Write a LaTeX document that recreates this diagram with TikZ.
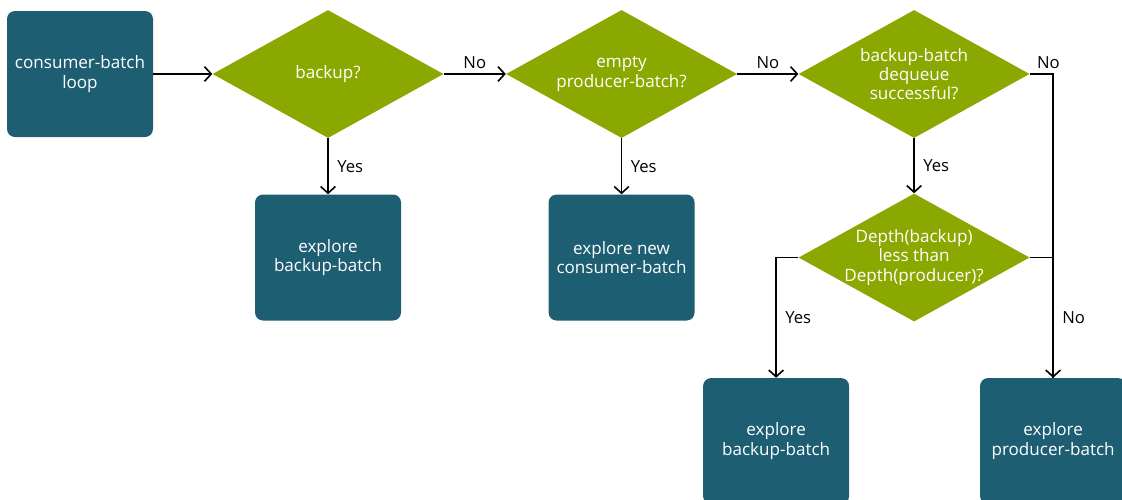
\documentclass[tikz,border=0pt]{standalone}
\usepackage{fontspec}
\setmainfont{Open Sans}
\usetikzlibrary{arrows.meta, shapes.geometric, positioning, calc}
\definecolor{boxteal}{RGB}{29,94,115}
\definecolor{qgreen}{RGB}{138,168,0}
\tikzset{
  stepnode/.style={
    rectangle, fill=boxteal, rounded corners=6pt, minimum width=109.5pt, minimum height=94.5pt,
    align=center, text=white, font=\fontsize{12.8}{14.5}\selectfont
  },
  decision/.style={
    diamond, fill=qgreen, aspect=1.8, inner sep=-4pt, minimum width=173.25pt, minimum height=96pt,
    align=center, text=white, font=\fontsize{12.8}{14.5}\selectfont
  },
  flow/.style={-{Straight Barb[length=5pt, width=11pt]}, line width=1.2pt},
  link/.style={line width=1.2pt},
  edgelabel/.style={font=\fontsize{12.5}{14}\selectfont}
}
\begin{document}
\begin{tikzpicture}[every node/.append style={edgelabel}]
    \useasboundingbox (0,0) rectangle (841.5pt,-375pt);
    % top row
    \node[stepnode] (loop) at (60pt,-55.5pt) {consumer-batch\\loop};
    \node[decision, right=44.25pt of loop] (backup) {backup?};
    \node[decision, right=46.5pt of backup] (empty) {empty\\producer-batch?};
    \node[decision, right=45.75pt of empty] (dequeue) {backup-batch\\dequeue\\successful?};
    \node[decision, below=41.25pt of dequeue] (depth) {Depth(backup)\\less than\\Depth(producer)?};
    % outcomes
    \node[stepnode, below=42pt of backup] (exbackup) {explore\\backup-batch};
    \node[stepnode, below=42pt of empty] (exconsumer) {explore new\\consumer-batch};
    \node[stepnode, below=42pt of depth, xshift=-103.5pt] (exbackuptwo) {explore\\backup-batch};
    \node[stepnode, below=42pt of depth, xshift=104.25pt] (exproducer) {explore\\producer-batch};

    \draw[flow] (loop) -- (backup);
    \draw[flow] (backup) -- node[above] {No} (empty);
    \draw[flow] (empty) -- node[above] {No} (dequeue);
    \draw[flow] (backup) -- node[right, xshift=3pt] {Yes} (exbackup);
    \draw[flow] (empty) -- node[right, xshift=3pt] {Yes} (exconsumer);
    \draw[flow] (dequeue) -- node[right, xshift=3pt] {Yes} (depth);
    \draw[flow] (dequeue.east) -| node[pos=0.4, above] {No} (exproducer.north);
    \draw[link] (depth.east) -| node[pos=0.75, right, xshift=3pt] {No} (exproducer.north);
    \draw[flow] (depth.west) -| node[pos=0.75, right, xshift=3pt] {Yes} (exbackuptwo.north);
\end{tikzpicture}
\end{document}
